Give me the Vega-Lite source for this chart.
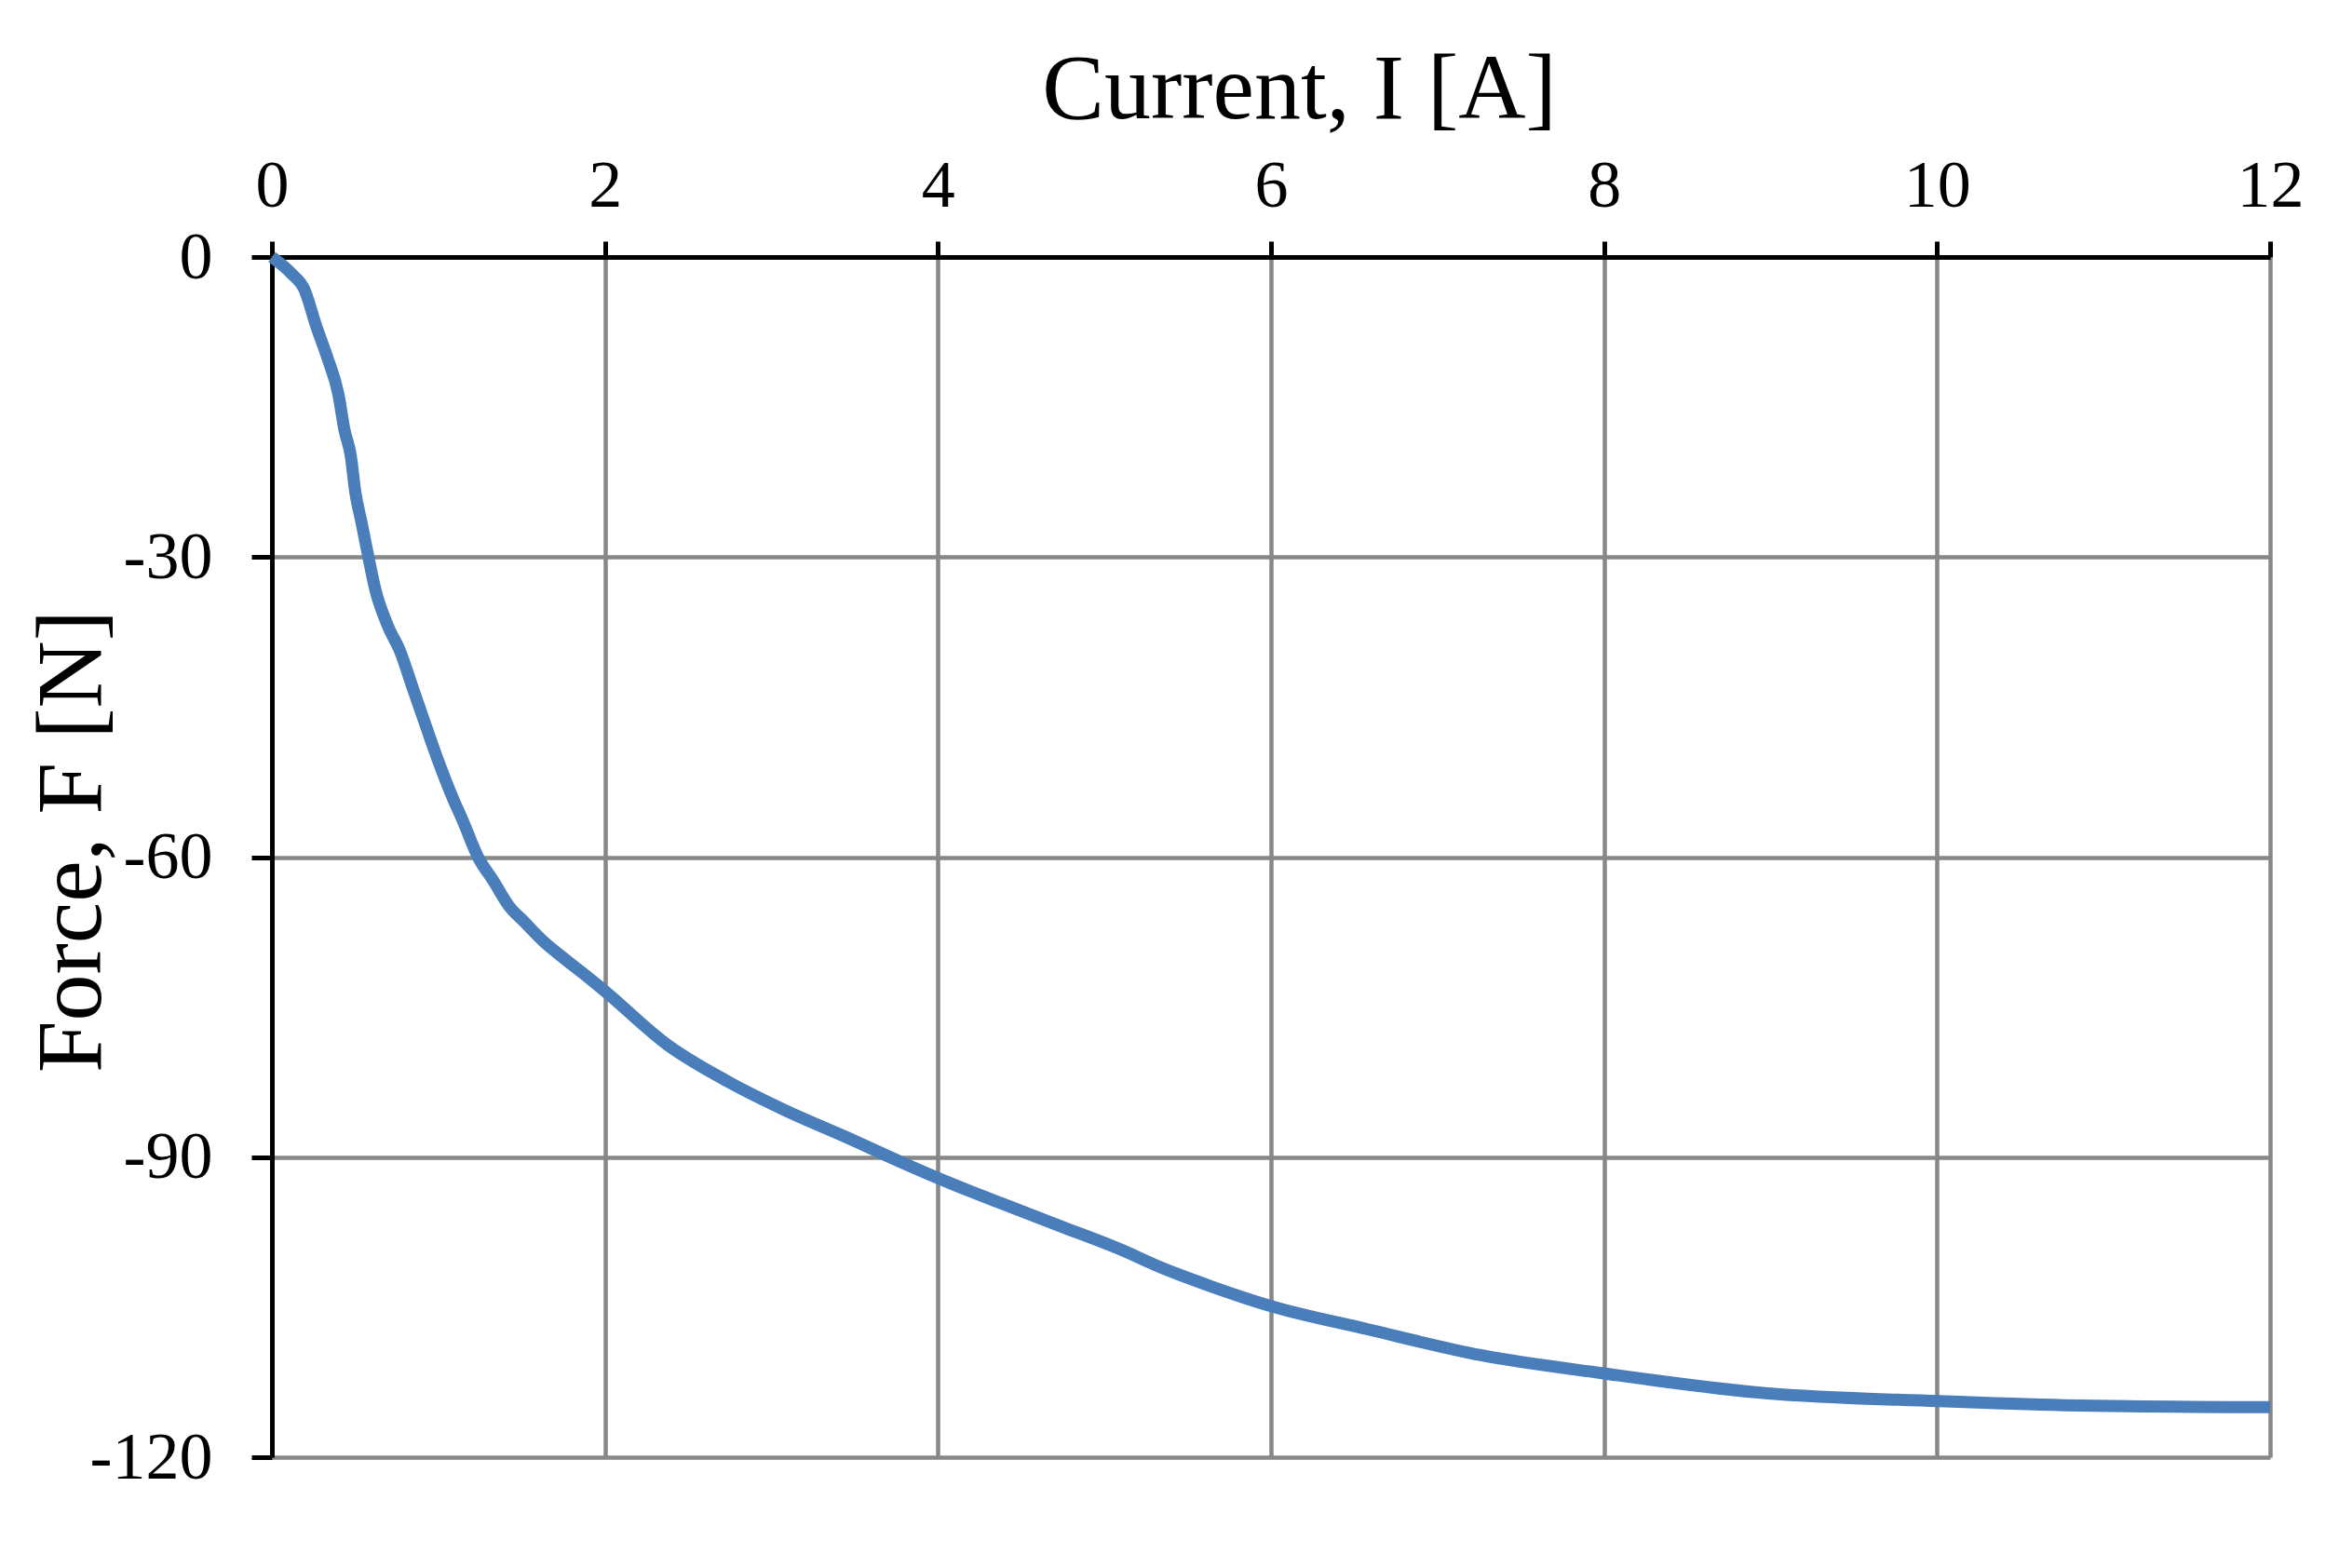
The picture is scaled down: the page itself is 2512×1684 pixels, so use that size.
{
  "$schema": "https://vega.github.io/schema/vega-lite/v6.json",
  "autosize": {"type": "none"},
  "padding": {"left": 292, "top": 276, "right": 74, "bottom": 119},
  "width": 2146,
  "height": 1289,
  "background": "white",
  "config": {
    "view": {"stroke": null},
    "font": "Liberation Serif"
  },
  "data": {
    "values": [
      {"I": 0.0, "F": 0.0},
      {"I": 0.12, "F": -1.7},
      {"I": 0.194, "F": -3.2},
      {"I": 0.268, "F": -7.0},
      {"I": 0.334, "F": -10.1},
      {"I": 0.399, "F": -13.7},
      {"I": 0.436, "F": -17.3},
      {"I": 0.474, "F": -19.9},
      {"I": 0.501, "F": -23.5},
      {"I": 0.539, "F": -26.6},
      {"I": 0.576, "F": -29.7},
      {"I": 0.622, "F": -33.3},
      {"I": 0.697, "F": -36.9},
      {"I": 0.772, "F": -39.5},
      {"I": 0.846, "F": -43.1},
      {"I": 0.921, "F": -46.7},
      {"I": 0.995, "F": -50.2},
      {"I": 1.089, "F": -54.2},
      {"I": 1.145, "F": -56.3},
      {"I": 1.238, "F": -60.0},
      {"I": 1.331, "F": -62.4},
      {"I": 1.424, "F": -64.9},
      {"I": 1.517, "F": -66.5},
      {"I": 1.629, "F": -68.4},
      {"I": 1.76, "F": -70.2},
      {"I": 1.89, "F": -71.9},
      {"I": 2.0, "F": -73.4},
      {"I": 2.378, "F": -78.8},
      {"I": 2.734, "F": -82.4},
      {"I": 3.093, "F": -85.4},
      {"I": 3.449, "F": -88.0},
      {"I": 3.806, "F": -90.7},
      {"I": 4.0, "F": -92.1},
      {"I": 4.378, "F": -94.6},
      {"I": 4.735, "F": -96.9},
      {"I": 5.092, "F": -99.2},
      {"I": 5.35, "F": -101.1},
      {"I": 5.637, "F": -102.9},
      {"I": 6.0, "F": -104.9},
      {"I": 6.578, "F": -107.2},
      {"I": 7.261, "F": -109.8},
      {"I": 7.988, "F": -111.6},
      {"I": 8.971, "F": -113.6},
      {"I": 10.006, "F": -114.4},
      {"I": 10.767, "F": -114.8},
      {"I": 12.0, "F": -115.0}
    ]
  },
  "mark": {"type": "line", "color": "#4a7ebb", "strokeWidth": 13, "strokeCap": "butt", "strokeJoin": "round", "interpolate": "monotone", "clip": false},
  "encoding": {
    "x": {
      "field": "I",
      "type": "quantitative",
      "scale": {"domain": [0, 12], "nice": false, "zero": false},
      "axis": {
        "orient": "top",
        "title": "Current, I [A]",
        "values": [0, 2, 4, 6, 8, 10, 12],
        "labelExpr": "'' + datum.value",
        "labelFont": "Liberation Serif",
        "labelFontSize": 72,
        "labelColor": "black",
        "labelPadding": 23,
        "labelFlush": false,
        "labelOverlap": false,
        "domainColor": "black",
        "domainWidth": 5,
        "tickColor": "black",
        "tickWidth": 5,
        "tickSize": 17,
        "grid": true,
        "gridColor": "#878787",
        "gridWidth": 4.5,
        "titleFont": "Liberation Serif",
        "titleFontSize": 100,
        "titleFontWeight": "normal",
        "titleColor": "black",
        "titleBaseline": "alphabetic",
        "titleAlign": "center",
        "titleX": 1103,
        "titleY": -150
      }
    },
    "y": {
      "field": "F",
      "type": "quantitative",
      "scale": {"domain": [-120, 0], "nice": false, "zero": false},
      "axis": {
        "orient": "left",
        "title": "Force, F [N]",
        "values": [0, -30, -60, -90, -120],
        "labelExpr": "'' + datum.value",
        "labelFont": "Liberation Serif",
        "labelFontSize": 72,
        "labelColor": "black",
        "labelPadding": 42,
        "labelFlush": false,
        "labelOverlap": false,
        "domainColor": "black",
        "domainWidth": 5,
        "tickColor": "black",
        "tickWidth": 5,
        "tickSize": 22,
        "grid": true,
        "gridColor": "#878787",
        "gridWidth": 4.5,
        "titleFont": "Liberation Serif",
        "titleFontSize": 100,
        "titleFontWeight": "normal",
        "titleColor": "black",
        "titleBaseline": "alphabetic",
        "titleAlign": "center",
        "titleAngle": 270,
        "titleX": -185,
        "titleY": 627
      }
    }
  }
}
